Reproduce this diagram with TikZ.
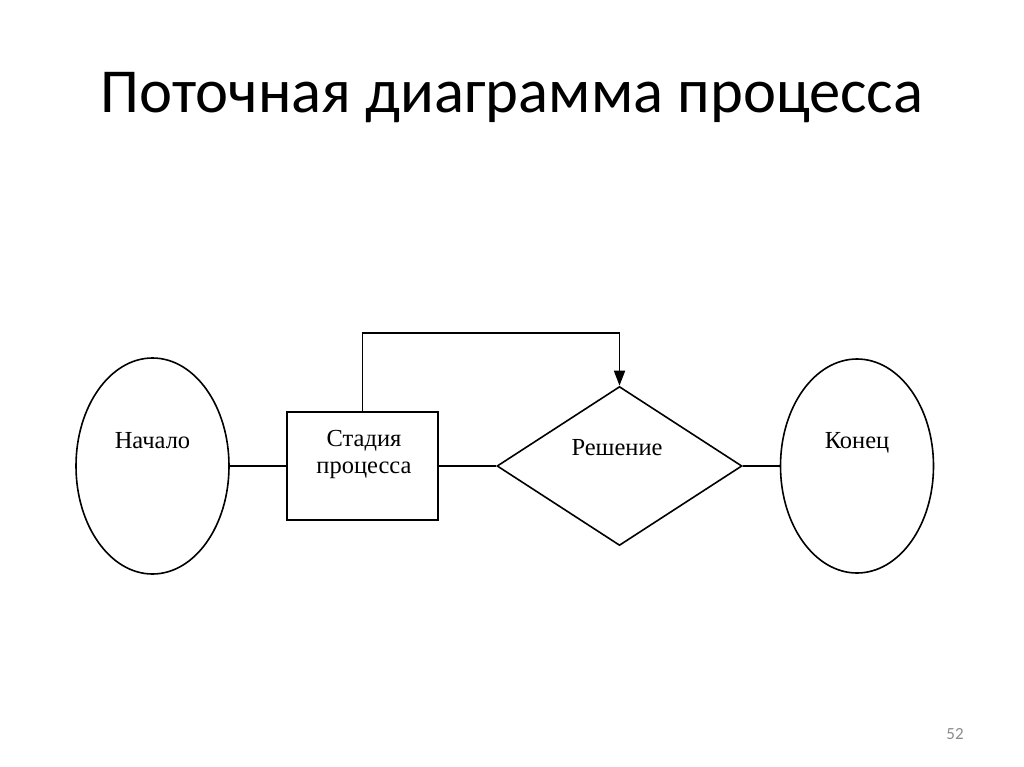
\documentclass[tikz,border=0pt]{standalone}
\usepackage{fontspec}
\setmainfont{Liberation Serif}
\newfontfamily\titlefont{Carlito}
\usetikzlibrary{shapes.geometric,arrows.meta}
\begin{document}
\begin{tikzpicture}[x=1pt,y=-1pt,
  shapeline/.style={draw=black,line width=1.6pt,inner sep=0pt},
  oval/.style={shapeline,ellipse,minimum width=153pt,minimum height=216pt},
  lbl/.style={font=\fontsize{24.5}{27}\selectfont,inner sep=0pt,anchor=base,align=center},
  conn/.style={line width=1.8pt}]
\useasboundingbox[fill=white] (0,0) rectangle (1024,767);
\node[font=\titlefont\fontsize{62.6}{70}\selectfont,anchor=base,inner sep=0pt] (title) at (512,113) {Поточная диаграмма процесса};
\node[oval] (start) at (152.5,466) {};
\node[shapeline,rectangle,minimum width=151pt,minimum height=108pt] (stage) at (362.5,466) {};
\node[shapeline,diamond,minimum width=245pt,minimum height=159pt] (dec) at (619.5,466) {};
\node[oval,minimum height=214pt] (end) at (857,466) {};
\node[lbl] (tstart) at (152.5,448) {Начало};
\node[lbl] (tstage) at (364,473) {Стадия\\процесса};
\node[lbl] (tdec) at (617,455) {Решение};
\node[lbl] (tend) at (857,448) {Конец};
\node[font=\titlefont\fontsize{17}{20}\selectfont,text=black!45,anchor=base,inner sep=0pt] (pnum) at (955,739) {52};
\coordinate (top) at (619.5,333);
\draw[conn] (start.east) -- (stage.west);
\draw[conn] (stage.east) -- (dec.west);
\draw[conn] (dec.east) -- (end.west);
\draw[conn,-{Triangle[length=15pt,width=11pt]}] (stage.north) |- (top) -- (dec.north);
\end{tikzpicture}
\end{document}
